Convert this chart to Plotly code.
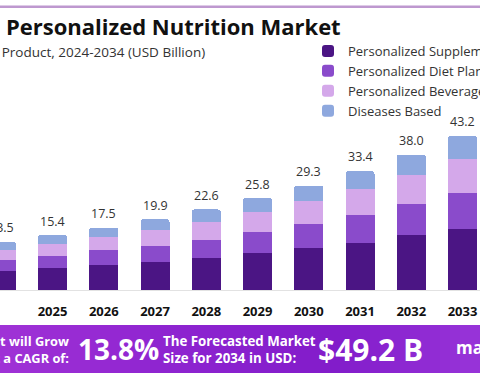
import plotly.graph_objects as go

years = [2024, 2025, 2026, 2027, 2028, 2029, 2030, 2031, 2032, 2033, 2034]
supplements = [5.4, 6.1, 6.9, 7.9, 9.0, 10.3, 11.7, 13.3, 15.3, 17.2, 19.5]
diet_plans = [3.1, 3.5, 4.2, 4.5, 5.1, 6.0, 6.7, 7.8, 8.8, 10.0, 11.4]
beverages = [2.8, 3.2, 3.9, 4.5, 5.0, 5.6, 6.5, 7.2, 8.2, 9.5, 10.8]
diseases = [2.2, 2.6, 2.5, 3.0, 3.5, 3.9, 4.4, 5.1, 5.7, 6.5, 7.5]
totals = [13.5, 15.4, 17.5, 19.9, 22.6, 25.8, 29.3, 33.4, 38.0, 43.2, 49.2]
series_names = ["Personalized Supplements", "Personalized Diet Plans",
                "Personalized Beverages", "Diseases Based"]
colors = ["#4B1584", "#8A4BCB", "#D4A8EA", "#8EA8DE"]

W, H = 480, 384
T, B = 60, 94
PLOT_H = H - T - B


def px(p):
    return p / W


def py(p):
    return (H - B - p) / PLOT_H


fig = go.Figure()
for name, vals, col in zip(series_names, [supplements, diet_plans, beverages, diseases], colors):
    fig.add_trace(go.Bar(x=years, y=vals, name=name, marker=dict(color=col, line=dict(width=0))))

font = "Open Sans, Arial, sans-serif"

annotations = []
for yr, t in zip(years, totals):
    annotations.append(dict(x=yr, y=t, xref="x", yref="y", text=f"{t:.1f}", showarrow=False,
                            yanchor="middle", yshift=14, font=dict(family=font, size=12.5, color="#333333")))

# title & subtitle
annotations.append(dict(x=px(343), y=py(26), xref="paper", yref="paper", xanchor="right", yanchor="middle",
                        text="Global Personalized Nutrition Market", showarrow=False,
                        font=dict(family=font, size=22, color="#111111", weight="bold")))
annotations.append(dict(x=px(207), y=py(52), xref="paper", yref="paper", xanchor="right", yanchor="middle",
                        text="Size, By Product, 2024-2034 (USD Billion)", showarrow=False,
                        font=dict(family=font, size=13.5, color="#333333")))

# banner text
annotations.append(dict(x=px(71), y=py(349), xref="paper", yref="paper", xanchor="right", yanchor="middle",
                        align="right", text="Market will Grow<br>At a CAGR of:", showarrow=False,
                        font=dict(family=font, size=12.8, color="white", weight="bold")))
annotations.append(dict(x=px(76), y=py(349), xref="paper", yref="paper", xanchor="left", yanchor="middle",
                        text="13.8%", showarrow=False,
                        font=dict(family=font, size=28, color="white", weight="bold")))
annotations.append(dict(x=px(161), y=py(349), xref="paper", yref="paper", xanchor="left", yanchor="middle",
                        align="left", text="The Forecasted Market<br>Size for 2034 in USD:", showarrow=False,
                        font=dict(family=font, size=13.3, color="white", weight="bold")))
annotations.append(dict(x=px(316), y=py(349), xref="paper", yref="paper", xanchor="left", yanchor="middle",
                        text="$49.2 B", showarrow=False,
                        font=dict(family=font, size=30, color="white", weight="bold")))
annotations.append(dict(x=px(454), y=py(347), xref="paper", yref="paper", xanchor="left", yanchor="middle",
                        text="market.us", showarrow=False,
                        font=dict(family=font, size=17, color="white", weight="bold")))

shapes = []
# thin top rule
shapes.append(dict(type="rect", xref="paper", yref="paper", x0=0, x1=1, y0=py(8), y1=py(5.5),
                   fillcolor="#BE98CF", line=dict(width=0), layer="above"))
# banner with horizontal gradient
stops = [(0.0, (160, 50, 214)), (0.35, (142, 36, 208)), (0.7, (130, 28, 202)), (1.0, (152, 52, 216))]
n = 48
for i in range(n):
    f = (i + 0.5) / n
    for (a, ca), (b, cb) in zip(stops[:-1], stops[1:]):
        if a <= f <= b:
            u = (f - a) / (b - a)
            c = tuple(int(round(ca[k] + (cb[k] - ca[k]) * u)) for k in range(3))
            break
    shapes.append(dict(type="rect", xref="paper", yref="paper", layer="below",
                       x0=i / n, x1=(i + 1) / n + 0.002, y0=py(373), y1=py(325),
                       fillcolor=f"rgb{c}", line=dict(width=0)))

x0 = 2024 - 1.25 / 51.25
fig.update_layout(
    width=W, height=H,
    margin=dict(l=0, r=0, t=T, b=B, autoexpand=False),
    paper_bgcolor="white", plot_bgcolor="white",
    barmode="stack", bargap=0.434, barcornerradius=3,
    font=dict(family=font, color="#333333"),
    xaxis=dict(range=[x0, x0 + W / 51.25], tickmode="array", tickvals=years,
               ticktext=[str(y) for y in years], showgrid=False, zeroline=False,
               showline=True, linecolor="#E2E2E2", linewidth=1, ticks="",
               ticklabelstandoff=9, automargin=False,
               tickfont=dict(family=font, size=13, color="#111111", weight="bold")),
    yaxis=dict(range=[0, PLOT_H / 3.565], visible=False),
    legend=dict(x=px(308), y=py(36), xanchor="left", yanchor="top", traceorder="normal",
                bgcolor="rgba(0,0,0,0)", font=dict(family=font, size=13, color="#333333"),
                itemclick=False),
    annotations=annotations,
    shapes=shapes,
    showlegend=True,
)

fig.write_html("out.html", config={"displayModeBar": False},
               post_script="document.body.style.margin='0';document.body.style.overflow='hidden';")
